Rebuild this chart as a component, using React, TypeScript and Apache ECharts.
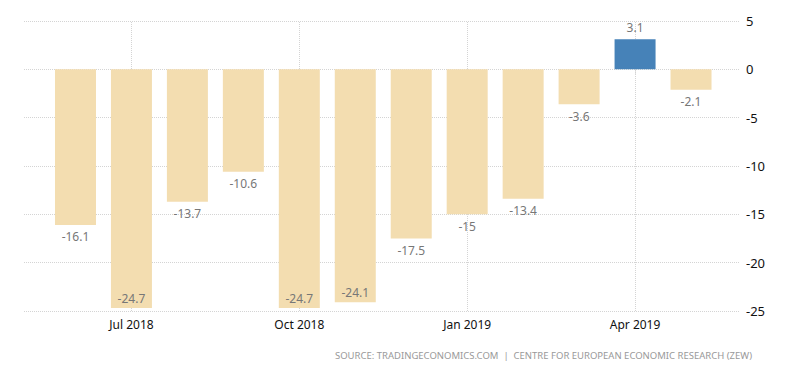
import React, { useEffect, useRef } from "react";
import * as echarts from "echarts";

const categories = [
  "Jun 2018", "Jul 2018", "Aug 2018", "Sep 2018", "Oct 2018", "Nov 2018",
  "Dec 2018", "Jan 2019", "Feb 2019", "Mar 2019", "Apr 2019", "May 2019",
];
const values = [-16.1, -24.7, -13.7, -10.6, -24.7, -24.1, -17.5, -15, -13.4, -3.6, 3.1, -2.1];
const labeledCategories = ["Jul 2018", "Oct 2018", "Jan 2019", "Apr 2019"];
const sourceText = "SOURCE: TRADINGECONOMICS.COM  |  CENTRE FOR EUROPEAN ECONOMIC RESEARCH (ZEW)";

const BEIGE = "#F3DDB0";
const BLUE = "#4682B8";
const GRID_COLOR = "#d4d4d4";

export default function App() {
  const ref = useRef<HTMLDivElement>(null);
  useEffect(() => {
    document.body.style.margin = "0";
    const chart = echarts.init(ref.current!, undefined, { renderer: "svg" });
    const top = 21;
    const bottom = 62;
    const data = values.map((v) => ({
      value: v,
      itemStyle: { color: v >= 0 ? BLUE : BEIGE },
      label: {
        position: v >= 0 ? "top" : v < -20 ? "insideBottom" : "bottom",
        distance: v < -20 ? 4 : 6,
      },
    }));
    chart.setOption({
      animation: false,
      grid: [
        { left: 24, right: 60, top, bottom },
        { left: 47.5, right: 81, top, bottom },
      ],
      xAxis: [
        { gridIndex: 0, type: "value", show: false, min: 0, max: 1 },
        {
          gridIndex: 1,
          type: "category",
          data: categories,
          axisLine: { show: false },
          axisTick: {
            show: true,
            alignWithLabel: true,
            interval: (i: number, v: string) => labeledCategories.includes(v),
            length: 6,
            lineStyle: { color: GRID_COLOR, type: "dotted" },
          },
          axisLabel: {
            interval: (i: number, v: string) => labeledCategories.includes(v),
            color: "#111",
            fontFamily: "Noto Sans",
            fontSize: 12,
            margin: 7,
          },
          splitLine: { show: false },
        },
      ],
      yAxis: [
        {
          gridIndex: 0,
          type: "value",
          position: "right",
          min: -25,
          max: 5,
          interval: 5,
          axisLine: { show: false },
          axisTick: { show: false },
          axisLabel: {
            color: "#111",
            fontFamily: "Noto Sans",
            fontSize: 13,
            margin: 6,
          },
          splitLine: { show: true, lineStyle: { color: GRID_COLOR, type: "dotted", width: 1 } },
        },
        {
          gridIndex: 1,
          type: "value",
          min: -25,
          max: 5,
          interval: 5,
          show: false,
          splitLine: { show: false },
        },
      ],
      series: [
        {
          type: "bar",
          xAxisIndex: 1,
          yAxisIndex: 1,
          barWidth: 41,
          data,
          z: 3,
          label: {
            show: true,
            color: "#777",
            fontFamily: "Noto Sans",
            fontSize: 12,
            formatter: (p: any) => String(p.value),
          },
          markLine: {
            silent: true,
            symbol: "none",
            z: 1,
            label: { show: false },
            lineStyle: { color: GRID_COLOR, type: "dotted", width: 1 },
            data: labeledCategories.map((c) => ({ xAxis: c })),
          },
        },
      ],
      graphic: [
        {
          type: "text",
          right: 48,
          top: 350,
          style: {
            text: sourceText,
            fill: "#999",
            font: "9.5px 'Noto Sans'",
          },
        },
      ],
    });
    return () => chart.dispose();
  }, []);
  return <div ref={ref} style={{ width: 800, height: 373 }} />;
}
